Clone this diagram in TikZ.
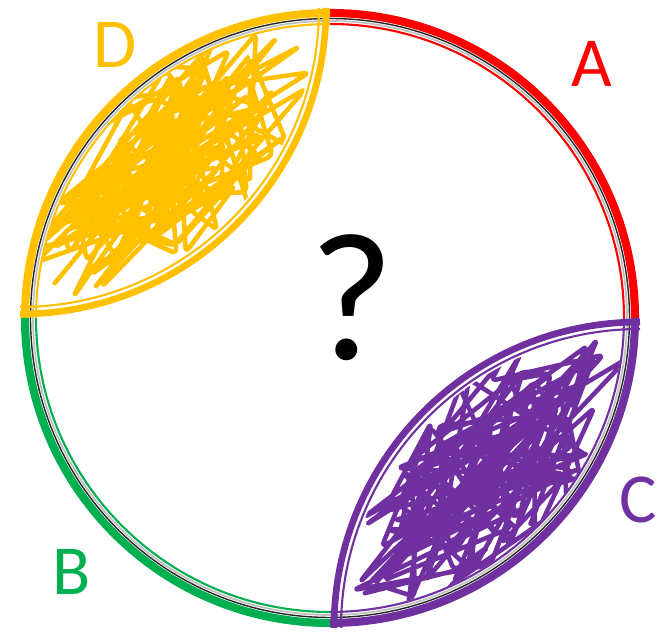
\documentclass[tikz,border=0pt]{standalone}
\usepackage{fontspec}
\setmainfont{Carlito}
\usepackage{tikz}
\usetikzlibrary{positioning}
\definecolor{qRed}{HTML}{FF0000}
\definecolor{qGreen}{HTML}{00B050}
\definecolor{qPurple}{HTML}{7030A0}
\definecolor{qGold}{HTML}{FFC000}
\tikzset{
  rim/.style={draw=#1, line width=2.3pt},
  rimline/.style={draw=#1, line width=0.6pt},
  rimedge/.style={draw=black!85, line width=0.4pt},
  lensrim/.style={draw=#1, line width=1.9pt},
  scribble/.style={draw=#1, line width=1.3pt, line join=round, line cap=round, rounded corners=1.5pt},
  letter/.style={text=#1, font=\fontsize{20}{24}\selectfont, anchor=base}
}

\begin{document}
\begin{tikzpicture}
  \useasboundingbox (-3.30,-3.15) rectangle (3.28,3.18);
  \pgfmathsetseed{4242}
  % scribbles inside the two lenses
  \begin{scope}
    \clip (0,0) circle (2.93);
    \clip (-3.1,3.1) circle (2.96);
    \begin{scope}[shift={(-1.55,1.55)}, rotate=45]
      \draw[scribble=qGold] (-1.7,0) \foreach \k [evaluate=\k as \u using {rand*1.35+rand*0.5}, evaluate=\k as \v using {rand*0.85*(1-(\u/2.15)^2)}] in {1,...,130} { -- (\u,\v) };
    \end{scope}
  \end{scope}
  \begin{scope}
    \clip (0,0) circle (2.93);
    \clip (3.1,-3.1) circle (2.96);
    \begin{scope}[shift={(1.55,-1.55)}, rotate=45]
      \draw[scribble=qPurple] (-1.7,0) \foreach \k [evaluate=\k as \u using {rand*1.35+rand*0.5}, evaluate=\k as \v using {rand*0.85*(1-(\u/2.15)^2)}] in {1,...,130} { -- (\u,\v) };
    \end{scope}
  \end{scope}
  % ring in four quarters
  \draw[rimedge] (0,0) circle (2.995);
  \draw[black!25, line width=0.5pt] (0,0) circle (2.97);
  \foreach \a/\col in {0/qRed, 90/qGold, 180/qGreen, 270/qPurple} {
    \draw[rim=\col] (\a:3.05) arc (\a:\a+90:3.05);
    \draw[rimline=\col] (\a:2.94) arc (\a:\a+90:2.94);
  }
  % inner edges of the lenses
  \draw[lensrim=qGold] (-3.1,3.1) ++(0:3.06) arc (0:-90:3.06);
  \draw[rimline=qGold] (-3.1,3.1) ++(0:2.99) arc (0:-90:2.99);
  \draw[lensrim=qPurple] (3.1,-3.1) ++(180:3.06) arc (180:90:3.06);
  \draw[rimline=qPurple] (3.1,-3.1) ++(180:2.99) arc (180:90:2.99);
  % labels
  \node[letter=qRed] (labA) at (2.62,2.31) {A};
  \node[letter=qGreen] (labB) at (-2.58,-2.77) {B};
  \node[letter=qPurple] (labC) at (3.08,-2.05) {C};
  \node[letter=qGold] (labD) at (-2.15,2.50) {D};
  \node[font=\fontsize{52}{60}\selectfont, anchor=base] (query) at (0.22,-0.42) {?};
\end{tikzpicture}
\end{document}
